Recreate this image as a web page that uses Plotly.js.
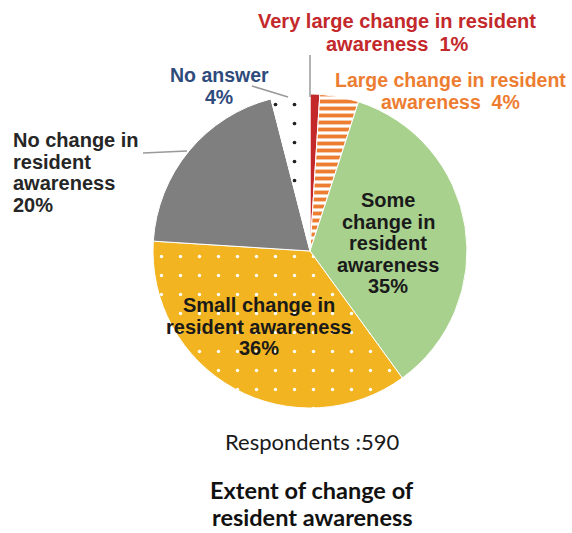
<!DOCTYPE html>
<html><head><meta charset="utf-8">
<script src="https://cdn.plot.ly/plotly-3.0.1.min.js"></script>
<style>body{margin:0;background:#fff}#c{width:572px;height:533px}</style>
</head><body><div id="c"></div>
<script>
const labels = ["Very large change in resident awareness", "Large change in resident awareness", "Some change in resident awareness", "Small change in resident awareness", "No change in resident awareness", "No answer"];
const values = [1, 4, 35, 36, 20, 4];
const labelLines = [
  ["Very large change in resident", "awareness  " + values[0] + "%"],
  ["Large change in resident", "awareness  " + values[1] + "%"],
  ["Some", "change in", "resident", "awareness", values[2] + "%"],
  ["Small change in", "resident awareness", values[3] + "%"],
  ["No change in", "resident", "awareness", values[4] + "%"],
  ["No answer", values[5] + "%"]
];
const colors = ["#C3282B", "#FFFFFF", "#A9D18E", "#F2B420", "#7F7F7F", "#FFFFFF"];
const fgcolors = ["#C3282B", "#ED7D31", "#A9D18E", "#FFFFFF", "#7F7F7F", "#222222"];
const textColors = ["#C3282B", "#ED7D31", "#1A1A1A", "#1A1A1A", "#262626", "#2F4B7C"];
const shapes = ["", "-", "", ".", "", "."];
const respondents = 590;
const titleLines = ["Extent of change of", "resident awareness"];

const W = 572, H = 533;
const F = "Liberation Sans, Arial, sans-serif";
function lines(arr, x, y0, dy, font, align) {
  return arr.map((t, i) => ({
    text: t, x: x / W, y: 1 - (y0 + i * dy) / H, xref: "paper", yref: "paper",
    showarrow: false, align: align || "center", xanchor: align === "left" ? "left" : "center", yanchor: "middle",
    borderpad: 0, font: font
  }));
}
const bold = (size, color) => ({family: F, size: size, color: color, weight: "bold"});
const B = t => t.map(s => "<b>" + s + "</b>");

const annotations = [].concat(
  lines(B(labelLines[0]), 397, 21, 23, bold(20, textColors[0])),
  lines(B(labelLines[1]), 450, 80, 21.5, bold(19.5, textColors[1])),
  lines(B(labelLines[2]), 388, 200, 21.5, bold(20, textColors[2])),
  lines(B(labelLines[3]), 259, 305, 21.5, bold(20, textColors[3])),
  lines(B(labelLines[4]), 12, 140, 21.7, bold(20, textColors[4]), "left"),
  lines(B(labelLines[5]), 219, 75, 21.5, bold(19.5, textColors[5])),
  lines(["Respondents :" + respondents], 312, 441, 0, {family: "Lato, sans-serif", size: 22, color: "#1A1A1A"}),
  lines(B(titleLines), 312, 490, 27, {family: "Lato, sans-serif", size: 23.5, color: "#111111", weight: "bold"})
);

const lineShapes = [
  {type: "line", xref: "paper", yref: "paper", x0: 310/W, x1: 310/W, y0: 1-55/H, y1: 1-97/H, line: {color: "#9a9a9a", width: 1.5}},
  {type: "line", xref: "paper", yref: "paper", x0: 252/W, x1: 288/W, y0: 1-86/H, y1: 1-97/H, line: {color: "#9a9a9a", width: 1.5}},
  {type: "line", xref: "paper", yref: "paper", x0: 143/W, x1: 187/W, y0: 1-153/H, y1: 1-151/H, line: {color: "#9a9a9a", width: 1.5}}
];

const trace = {
  type: "pie", labels: labels, values: values, sort: false, direction: "clockwise", rotation: 0,
  textinfo: "none", hoverinfo: "label+percent",
  domain: {x: [(310-157)/W, (310+157)/W], y: [(282-157)/H, (282+157)/H]},
  marker: {colors: colors, line: {color: "#FFFFFF", width: 1},
    pattern: {shape: shapes, fgcolor: fgcolors, bgcolor: colors, fgopacity: 1, size: [8, 7, 8, 19, 8, 19], solidity: [0.3, 0.55, 0.3, 0.025, 0.3, 0.03], fillmode: "replace"}}
};

Plotly.newPlot("c", [trace], {
  width: W, height: H, margin: {l: 0, r: 0, t: 0, b: 0}, showlegend: false,
  paper_bgcolor: "#fff", annotations: annotations, shapes: lineShapes
}, {staticPlot: true});
</script></body></html>
